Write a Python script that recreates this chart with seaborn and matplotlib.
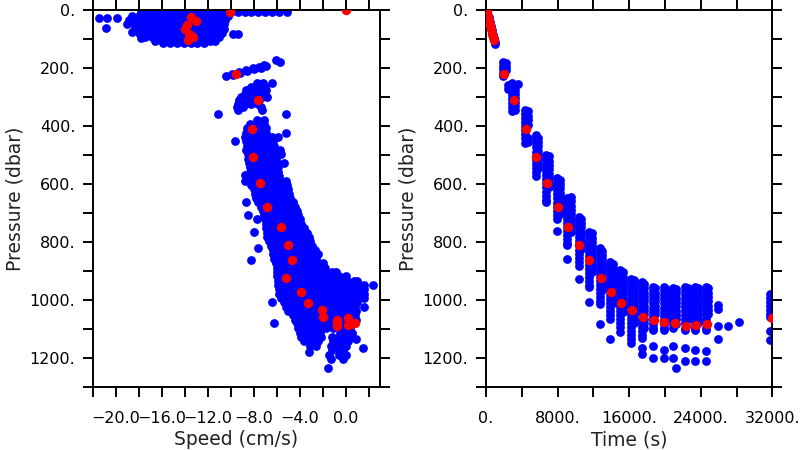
import matplotlib
matplotlib.use("Agg")
import numpy as np
import pandas as pd
import seaborn as sns
import matplotlib.pyplot as plt
from matplotlib.ticker import FixedLocator, FixedFormatter

# ---------------------------------------------------------------
# Speed panel, blue samples: (pressure dbar, [speeds cm/s]) per level
# ---------------------------------------------------------------
speed_rows_top = [
    (8, [-17.8, -17.2, -16.6, -16.0, -15.4, -14.8, -14.2, -13.6, -13.0, -12.4, -11.8,
         -11.2, -10.6, -10.0, -9.4, -8.8, -8.2, -7.6, -7.0, -6.4, -5.8, -5.1]),
    (22, [-18.6, -18.0, -17.4, -16.8, -16.2, -15.6, -15.0, -14.4, -13.8, -13.2, -12.6,
          -12.0, -11.4, -10.8, -10.2]),
    (27, [-19.9]),
    (29, [-21.5, -20.8]),
    (36, [-18.9, -18.3, -17.7, -17.1, -16.5, -15.9, -15.3, -14.7, -14.1, -13.5, -12.9,
          -12.3, -11.7, -11.1, -10.5]),
    (50, [-19.0, -18.4, -17.8, -17.2, -16.6, -16.0, -15.4, -14.8, -14.2, -13.6, -13.0,
          -12.4, -11.8, -11.2, -10.6]),
    (62, [-20.9]),
    (64, [-18.3, -17.7, -17.1, -16.5, -15.9, -15.3, -14.7, -14.1, -13.5, -12.9, -12.3,
          -11.7, -11.1, -10.6]),
    (76, [-18.6]),
    (78, [-18.0, -17.4, -16.8, -16.2, -15.6, -15.0, -14.4, -13.8, -13.2, -12.6, -12.0,
          -11.4, -10.8]),
    (84, [-9.8, -9.4]),
    (92, [-17.5, -16.9, -16.3, -15.7, -15.1, -14.5, -13.9, -13.3, -12.7, -12.1, -11.5, -11.0]),
    (96, [-17.8]),
    (106, [-16.6, -16.0, -15.4, -14.8, -14.2, -13.6, -13.0, -12.4, -11.8, -11.4]),
    (114, [-15.9, -15.3, -14.7, -14.1, -13.5, -12.9, -12.3]),
]

# the thin slanted streak near 200 dbar: (speed, pressure)
streak_speed = [-6.1, -5.7, -10.4, -9.8, -9.2, -8.6, -8.0, -7.4, -6.9,
                -9.9, -9.3, -8.7, -8.1, -7.5, -7.1]
streak_pres = [174, 179, 229, 223, 217, 211, 205, 199, 194,
               219, 213, 207, 201, 195, 191]

speed_rows_mid = [
    (252, [-7.7, -7.2, -6.4]),
    (264, [-8.2, -7.6, -7.0]),
    (276, [-8.7, -8.1, -7.5, -6.9]),
    (288, [-8.8, -8.2, -7.6, -7.0]),
    (300, [-9.1, -8.5, -7.9, -7.3, -6.8]),
    (312, [-9.3, -8.7, -8.1, -7.5]),
    (324, [-9.4, -8.8, -8.2, -7.6]),
    (336, [-9.5, -8.9, -7.4]),
    (346, [-9.4, -7.3]),
    (360, [-11.1, -5.2]),
]

speed_rows_deep = [
    (378, [-7.7, -7.1]),
    (393, [-8.3, -7.7, -7.1]),
    (408, [-8.6, -8.0, -7.4, -6.9]),
    (423, [-8.7, -8.1, -7.5, -6.9, -5.2]),
    (438, [-8.8, -8.2, -7.6, -7.0, -6.4, -5.9]),
    (453, [-9.6, -8.7, -8.1, -7.5, -6.9, -6.3]),
    (468, [-8.6, -8.0, -7.4, -6.8, -6.2]),
    (483, [-8.7, -8.1, -7.5, -6.9, -6.3, -5.7]),
    (498, [-8.5, -7.9, -7.3, -6.7, -6.1, -5.6]),
    (513, [-8.5, -7.9, -7.3, -6.7, -6.1]),
    (528, [-8.4, -7.8, -7.2, -6.6, -6.0, -5.4]),
    (543, [-8.3, -7.7, -7.1, -6.5, -5.9]),
    (558, [-8.3, -7.7, -7.1, -6.5, -5.9]),
    (570, [-8.8]),
    (573, [-8.2, -7.6, -7.0, -6.4, -5.8]),
    (588, [-8.8, -8.1, -7.5, -6.9, -6.3, -5.7, -5.2]),
    (603, [-8.2, -7.6, -7.0, -6.4, -5.8, -5.1]),
    (618, [-8.0, -7.4, -6.8, -6.2, -5.6, -5.0]),
    (633, [-7.9, -7.3, -6.7, -6.1, -5.5, -4.9]),
    (648, [-7.8, -7.2, -6.6, -6.0, -5.4, -4.8]),
    (663, [-8.7, -7.6, -7.0, -6.4, -5.8, -5.2, -4.6]),
    (678, [-7.4, -6.8, -6.2, -5.6, -5.0, -4.4]),
    (693, [-7.2, -6.6, -6.0, -5.4, -4.8, -4.2]),
    (706, [-8.5, -7.1, -6.5, -5.9, -5.3, -4.7, -4.1]),
    (722, [-7.7, -7.0, -6.4, -5.8, -5.2, -4.6, -4.0]),
    (738, [-6.9, -6.3, -5.7, -5.1, -4.5, -3.9]),
    (753, [-6.9, -6.3, -5.7, -5.1, -4.5, -3.9, -3.6]),
    (764, [-8.0]),
    (768, [-6.8, -6.2, -5.6, -5.0, -4.4, -3.8, -3.4]),
    (783, [-6.8, -6.2, -5.6, -5.0, -4.4, -3.8, -3.2]),
    (798, [-6.7, -6.1, -5.5, -4.9, -4.3, -3.7, -3.1]),
    (813, [-6.5, -5.9, -5.3, -4.7, -4.1, -3.5, -2.9]),
    (821, [-7.6]),
    (828, [-6.3, -5.7, -5.1, -4.5, -3.9, -3.3, -2.7]),
    (843, [-6.3, -5.7, -5.1, -4.5, -3.9, -3.3, -2.7, -2.4]),
    (858, [-6.2, -5.6, -5.0, -4.4, -3.8, -3.2, -2.6]),
    (861, [-8.2]),
    (873, [-6.1, -5.5, -4.9, -4.3, -3.7, -3.1, -2.5, -2.0]),
    (888, [-6.0, -5.4, -4.8, -4.2, -3.6, -3.0, -2.4, -1.8]),
    (903, [-6.0, -5.4, -4.8, -4.2, -3.6, -3.0, -2.4, -1.8, -1.2, -0.8]),
    (918, [-6.0, -5.4, -4.8, -4.2, -3.6, -3.0, -2.4, -1.8, -1.2, -0.6, 0.0]),
    (933, [-5.9, -5.3, -4.7, -4.1, -3.5, -2.9, -2.3, -1.7, -1.1, -0.5, 0.1, 0.7, 1.0]),
    (948, [-5.9, -5.3, -4.7, -4.1, -3.5, -2.9, -2.3, -1.7, -1.1, -0.5, 0.1, 0.7, 1.2, 1.6, 2.35]),
    (963, [-5.8, -5.2, -4.6, -4.0, -3.4, -2.8, -2.2, -1.6, -1.0, -0.4, 0.2, 0.8, 1.2, 1.6]),
    (978, [-5.8, -5.2, -4.6, -4.0, -3.4, -2.8, -2.2, -1.6, -1.0, -0.4, 0.2, 0.8, 1.2, 1.6]),
    (993, [-5.6, -5.0, -4.4, -3.8, -3.2, -2.6, -2.0, -1.4, -0.8, -0.2, 0.4, 0.9, 1.6]),
    (1008, [-6.4, -5.4, -4.8, -4.2, -3.6, -3.0, -2.4, -1.8, -1.2, -0.6, 0.0, 0.6, 1.0]),
    (1023, [-5.2, -4.6, -4.0, -3.4, -2.8, -2.2, -1.6, -1.0, -0.4, 0.2, 0.8, 1.6]),
    (1038, [-5.0, -4.4, -3.8, -3.2, -2.6, -2.0, -1.4, -0.8, -0.2, 0.4, 0.9]),
    (1053, [-4.6, -4.0, -3.4, -2.8, -2.2, -1.6, -1.0, -0.4, 0.2, 0.8]),
    (1068, [-4.4, -3.8, -3.2, -2.6, -2.0, -1.4, -0.8, -0.2, 0.4, 0.9]),
    (1081, [-6.2, -4.2, -3.6, -3.0, -2.4, -1.8, -1.2, -0.6, 0.0, 0.5]),
    (1098, [-4.1, -3.5, -2.9, -2.3, -1.7, -1.1, -0.5, 0.1, 0.4]),
    (1113, [-4.0, -3.4, -2.8, -2.2, -0.5, 0.1, 0.6]),
    (1128, [-3.9, -3.3, -2.7, -2.1, -1.2, -0.6, 0.0, 0.3]),
    (1134, [0.95]),
    (1143, [-3.6, -3.0, -2.4, -1.1, -0.5, 0.2]),
    (1158, [-3.1, -2.6, -1.3, -0.7, 0.0]),
    (1167, [1.5]),
    (1173, [-1.2, -0.6, -0.2]),
    (1178, [-3.2]),
    (1190, [-1.4, -0.6, 0.0]),
    (1205, [-1.3, -0.2]),
    (1236, [-1.5]),
]

# ---------------------------------------------------------------
# Time panel, blue samples: (time s, [pressures dbar]) per column
# ---------------------------------------------------------------
time_cols = [
    (150, [10]), (280, [25]), (400, [40]), (520, [55]), (640, [70]),
    (760, [85]), (860, [98]), (960, [110]), (1000, [118]),
    (1950, [180, 192, 204, 216, 226]),
    (2250, [184, 196, 208]),
    (2500, [260, 272]),
    (2870, [251, 265, 280, 294, 308, 322, 336, 350]),
    (3250, [262, 276, 290, 304, 318, 332, 345]),
    (3550, [255]),
    (4350, [345, 359, 373, 387, 401, 415, 429, 443, 457]),
    (4650, [350, 365, 380, 395, 440, 455]),
    (5550, [432, 446, 460, 474, 488, 502, 516, 530, 544, 558, 572]),
    (5850, [440, 455, 470, 485, 500, 515, 530, 545]),
    (6700, [500, 514, 528, 542, 556, 570, 584, 598, 612, 626, 640, 654, 662]),
    (7000, [505, 520, 535, 550, 565, 580, 595, 610]),
    (7900, [580, 594, 608, 622, 636, 650, 664, 678, 692, 706, 720, 762]),
    (8250, [585, 600, 615, 630, 645, 660, 675, 690, 705]),
    (9100, [650, 664, 678, 692, 706, 720, 734, 748, 762, 776, 790, 804, 812, 860]),
    (9450, [645, 660, 675, 690, 705, 720, 735, 750, 765]),
    (10350, [714, 728, 742, 756, 770, 784, 798, 812, 826, 840, 854, 868, 882, 929]),
    (10650, [720, 735, 750, 765, 780, 795, 810, 825]),
    (11500, [766, 780, 794, 808, 822, 836, 850, 864, 878, 892, 906, 920, 934, 948, 956, 1007]),
    (11800, [770, 785, 800, 815, 830, 845, 860, 875, 890, 905]),
    (12700, [822, 836, 850, 864, 878, 892, 906, 920, 934, 948, 962, 976, 990, 1004, 1015, 1082]),
    (13000, [830, 845, 860, 875, 890, 905, 920, 935, 950, 965]),
    (13850, [870, 884, 898, 912, 926, 940, 954, 968, 982, 996, 1010, 1024, 1038, 1052, 1066, 1134]),
    (14150, [875, 890, 905, 920, 935, 950, 965, 980, 995, 1010]),
    (15000, [898, 912, 926, 940, 954, 968, 982, 996, 1010, 1024, 1038, 1052, 1066, 1080, 1094, 1110]),
    (15300, [905, 920, 935, 950, 965, 980, 995, 1010, 1025, 1040]),
    (16250, [926, 940, 954, 968, 982, 996, 1010, 1024, 1038, 1052, 1066, 1080, 1094, 1108,
             1122, 1136, 1147]),
    (16550, [930, 945, 960, 975, 990, 1005, 1020, 1035, 1050, 1065, 1080]),
    (17450, [938, 952, 966, 980, 994, 1008, 1022, 1036, 1050, 1064, 1078, 1092, 1106, 1120,
             1130, 1167, 1186]),
    (17700, [945, 960, 975, 990, 1005, 1020, 1035, 1050, 1065, 1080, 1095]),
    (18650, [956, 970, 984, 998, 1012, 1026, 1040, 1054, 1068, 1082, 1096, 1104, 1159, 1199]),
    (18900, [960, 975, 990, 1005, 1020, 1035, 1050]),
    (19850, [956, 970, 984, 998, 1012, 1026, 1040, 1054, 1068, 1082, 1096, 1104, 1172, 1201]),
    (20100, [962, 977, 992, 1007, 1022, 1037, 1052, 1067]),
    (20950, [958, 972, 986, 1000, 1014, 1028, 1042, 1056, 1070, 1084, 1098, 1158, 1201]),
    (21250, [962, 977, 992, 1007, 1022, 1037, 1052, 1067, 1082, 1236]),
    (22250, [955, 969, 983, 997, 1011, 1025, 1039, 1053, 1067, 1081, 1095, 1102, 1167, 1211]),
    (22550, [960, 975, 990, 1005, 1020, 1035, 1050, 1065]),
    (23400, [956, 970, 984, 998, 1012, 1026, 1040, 1054, 1068, 1082, 1096, 1102, 1174, 1211]),
    (23700, [960, 975, 990, 1005, 1020, 1035, 1050, 1065, 1080]),
    (24600, [955, 969, 983, 997, 1011, 1025, 1039, 1053, 1067, 1081, 1095, 1103, 1176, 1209]),
    (24850, [960, 975, 990, 1005, 1020, 1035, 1050]),
    (25880, [1017, 1032, 1088, 1134]),
    (27070, [1088]),
    (28260, [1077]),
    (31700, [978, 992, 1006, 1020, 1034, 1048, 1060, 1106, 1138]),
]

# red points (same samples in both panels)
red_pres = [0, 8, 25, 37, 52, 66, 84, 92, 104, 222, 312, 410, 508, 597, 679, 748, 809,
            863, 924, 972, 1011, 1035, 1060, 1069, 1077, 1081, 1088, 1085, 1082, 1063]
red_speed = [0.0, -10.1, -13.5, -13.0, -13.8, -14.0, -13.6, -13.25, -13.7, -9.54, -7.6,
             -8.17, -8.03, -7.45, -6.87, -5.63, -5.02, -4.64, -5.16, -3.89, -3.28, -2.06,
             -1.97, -0.78, -0.72, 0.81, -0.73, 0.23, 0.50, 0.23]
red_time = [0, 70, 200, 310, 430, 560, 700, 780, 880, 2010, 3160, 4430, 5585, 6770, 8000,
            9200, 10400, 11550, 12800, 13930, 15100, 16360, 17550, 18740, 19930, 21130,
            22320, 23510, 24700, 31950]

# tick labels
speed_ticks = [-20, -16, -12, -8, -4, 0]
speed_labels = ["\u221220.0", "\u221216.0", "\u221212.0", "\u22128.0", "\u22124.0", "0.0"]
speed_minor = [-22, -18, -14, -10, -6, -2, 2]
time_ticks = [0, 8000, 16000, 24000, 32000]
time_labels = ["0.", "8000.", "16000.", "24000.", "32000."]
time_minor = [4000, 12000, 20000, 28000]
pres_ticks = [0, 200, 400, 600, 800, 1000, 1200]
pres_labels = ["0.", "200.", "400.", "600.", "800.", "1000.", "1200."]
pres_minor = [100, 300, 500, 700, 900, 1100, 1300]


def rows_to_frame(rows, xname, yname, key_is_y):
    recs = []
    for key, vals in rows:
        for v in vals:
            recs.append((v, key) if key_is_y else (key, v))
    return pd.DataFrame(recs, columns=[xname, yname])


left_blue = pd.concat([
    rows_to_frame(speed_rows_top, "speed", "pres", True),
    pd.DataFrame({"speed": streak_speed, "pres": streak_pres}),
    rows_to_frame(speed_rows_mid, "speed", "pres", True),
    rows_to_frame(speed_rows_deep, "speed", "pres", True),
], ignore_index=True)
right_blue = rows_to_frame(time_cols, "time", "pres", False)
red = pd.DataFrame({"pres": red_pres, "speed": red_speed, "time": red_time})

sns.set_theme(style="white")
plt.rcParams["font.family"] = ["DejaVu Sans"]

fig = plt.figure(figsize=(8, 4.5), dpi=100)
ax1 = fig.add_axes([0.11625, 0.14, 0.35875, 0.8378])
ax2 = fig.add_axes([0.6075, 0.14, 0.3579, 0.8378])

BLUE = "#0000ff"
RED = "#ff0000"
S_BLUE = 40
S_RED = 46

sns.scatterplot(data=left_blue, x="speed", y="pres", color=BLUE, s=S_BLUE, linewidth=0, ax=ax1, zorder=2)
sns.scatterplot(data=red, x="speed", y="pres", color=RED, s=S_RED, linewidth=0, ax=ax1, zorder=3)
sns.scatterplot(data=right_blue, x="time", y="pres", color=BLUE, s=S_BLUE, linewidth=0, ax=ax2, zorder=2)
sns.scatterplot(data=red, x="time", y="pres", color=RED, s=S_RED, linewidth=0, ax=ax2, zorder=3)

ax1.set_xlim(-22, 3)
ax2.set_xlim(0, 32000)

for ax, xt, xl, xm, xlab in [(ax1, speed_ticks, speed_labels, speed_minor, "Speed (cm/s)"),
                             (ax2, time_ticks, time_labels, time_minor, "Time (s)")]:
    ax.set_ylim(1300, 0)
    ax.xaxis.set_major_locator(FixedLocator(xt))
    ax.xaxis.set_major_formatter(FixedFormatter(xl))
    ax.xaxis.set_minor_locator(FixedLocator(xm))
    ax.yaxis.set_major_locator(FixedLocator(pres_ticks))
    ax.yaxis.set_major_formatter(FixedFormatter(pres_labels))
    ax.yaxis.set_minor_locator(FixedLocator(pres_minor))
    ax.tick_params(which="both", direction="out", length=7.2, width=1.4, color="black",
                   top=True, right=True, bottom=True, left=True,
                   labeltop=False, labelright=False)
    ax.tick_params(axis="x", which="major", pad=10, labelsize=11.5, labelcolor="black")
    ax.tick_params(axis="y", which="major", pad=5.5, labelsize=11.5, labelcolor="black")
    for sp in ax.spines.values():
        sp.set_visible(True)
        sp.set_linewidth(1.4)
        sp.set_color("black")
    ax.set_xlabel(xlab, fontsize=13.5, color="#222222", labelpad=3)
    ax.set_ylabel("Pressure (dbar)", fontsize=13.5, color="#222222", labelpad=4)
    ax.set_facecolor("white")
    ax.grid(False)

fig.savefig("out.png", dpi=100, facecolor="white")
